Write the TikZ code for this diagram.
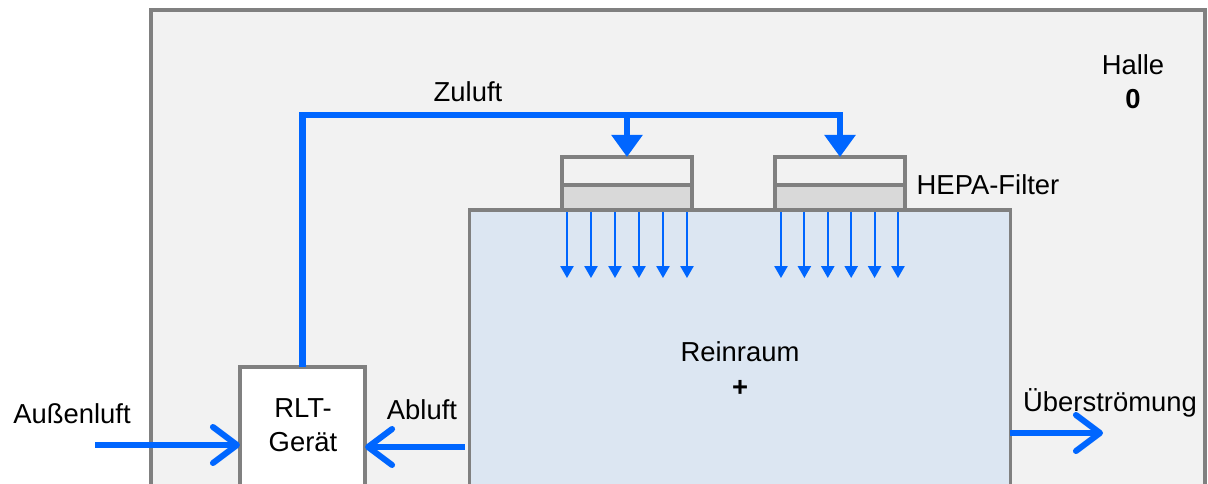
\documentclass[tikz,border=0pt]{standalone}
\usepackage{fontspec}
\setmainfont{Liberation Sans}
\usepackage{xcolor}
\usepackage{tikz}
\usetikzlibrary{arrows.meta,positioning}
\definecolor{airblue}{RGB}{0,102,255}
\definecolor{wallgray}{RGB}{128,128,128}
\definecolor{hallfill}{RGB}{242,242,242}
\definecolor{roomfill}{RGB}{220,230,242}
\definecolor{filterfill}{RGB}{217,217,217}

\begin{document}
\begin{tikzpicture}[
    x=0.025cm,y=-0.025cm,
    every node/.style={font=\fontsize{19.5}{24}\selectfont},
    hallbox/.style={rectangle,draw=wallgray,line width=2.8pt,fill=hallfill,outer sep=0pt},
    roombox/.style={rectangle,draw=wallgray,line width=2.2pt,fill=roomfill,outer sep=0pt,minimum width=13.5cm,minimum height=8cm},
    rltbox/.style={rectangle,draw=wallgray,line width=2.2pt,fill=white,outer sep=0pt,minimum width=3.125cm,minimum height=4.075cm},
    filtertop/.style={rectangle,draw=wallgray,line width=2.2pt,fill=hallfill,outer sep=0pt,minimum width=3.25cm,minimum height=0.7cm},
    filterbot/.style={rectangle,draw=wallgray,line width=2.2pt,fill=filterfill,outer sep=0pt,minimum width=3.25cm,minimum height=0.625cm},
    airline/.style={draw=airblue,line width=4.3pt},
    airarrow/.style={airline,-{Straight Barb[round,length=0.6cm,width=0.9cm]}},
    feedarrow/.style={airline,-{Triangle[length=0.55cm,width=0.75cm]}},
    flowarrow/.style={draw=airblue,line width=1.4pt,-{Triangle[length=0.3cm,width=0.33cm]}}
]
    \useasboundingbox (0,0) rectangle (1208,484);
    \clip (0,0) rectangle (1208,484);

    % Boxes
    \node[hallbox,minimum width=26.35cm,minimum height=13cm] (halle) at (678,270) {};
    \node[roombox] (room) at (740,370) {};
    \node[rltbox] (rlt) at (302.5,448.5) {};
    \node[filtertop] (filtA) at (627,171) {};
    \node[filterbot,below=0pt of filtA] (filtAb) {};
    \node[filtertop] (filtB) at (840,171) {};
    \node[filterbot,below=0pt of filtB] (filtBb) {};

    % Labels
    \node[align=center] (rlttext) at (303,425) {RLT-\\Gerät};
    \node[align=center] (hallelabel) at (1133,82) {Halle\\\textbf{0}};
    \node (zulabel) at (468,92) {Zuluft};
    \node (hepalabel) at (988,185) {HEPA-Filter};
    \node (roomlabel) at (740,352) {Reinraum};
    \node (roomplus) at (740,388) {\textbf{+}};
    \node (aussenlabel) at (72,414) {Außenluft};
    \node (ablabel) at (422,410) {Abluft};
    \node (ueberlabel) at (1110,403) {Überströmung};

    % Air paths
    \coordinate (zuline) at (0,115);
    \coordinate (abline) at (0,447);
    \coordinate (ueberline) at (0,433);
    \coordinate (aussen) at (95,445);
    \coordinate (ueber) at (1103,433);

    \draw[feedarrow] (rlt.north) |- (filtB.north |- zuline) -- (filtB.north);
    \draw[feedarrow] (filtA.north |- zuline) -- (filtA.north);
    \draw[airarrow] (aussen) -- (aussen -| rlt.west);
    \draw[airarrow] ([xshift=-0.125cm]room.west |- abline) -- (rlt.east |- abline);
    \draw[airarrow] (room.east |- ueberline) -- (ueber);

    \foreach \i in {0,...,5} {
        \draw[flowarrow] ([xshift={(5+24*\i)*0.025cm},yshift=-0.05cm]filtAb.south west) -- ++(0,66);
        \draw[flowarrow] ([xshift={(6+23.4*\i)*0.025cm},yshift=-0.05cm]filtBb.south west) -- ++(0,66);
    }
\end{tikzpicture}
\end{document}
